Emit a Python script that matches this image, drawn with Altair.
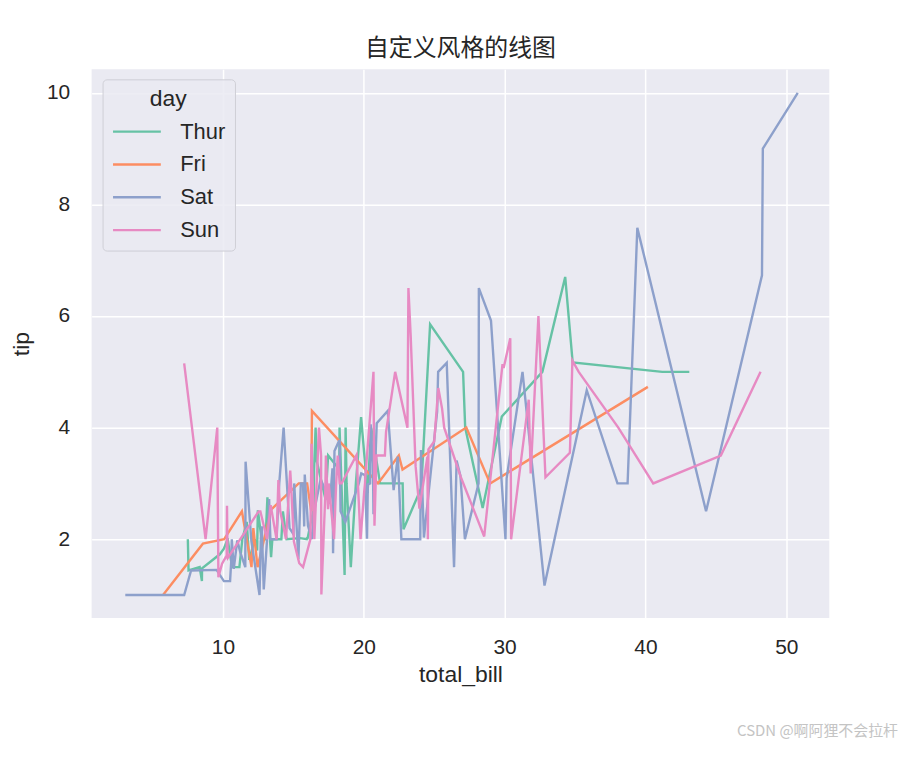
import altair as alt
import pandas as pd

days = ["Thur", "Fri", "Sat", "Sun"]
colors = ["#66c2a5", "#fc8d62", "#8da0cb", "#e78ac3"]

thur_bill = [27.2, 22.76, 17.29, 19.44, 16.66, 10.07, 32.68, 15.98, 34.83, 13.03, 18.28, 24.71, 21.16,
             10.65, 12.43, 24.08, 11.69, 13.42, 14.26, 15.95, 12.48, 29.8, 8.52, 14.52, 11.38, 22.82,
             19.08, 20.27, 11.17, 12.26, 18.26, 8.51, 10.33, 14.15, 16.0, 13.16, 17.47, 34.3, 41.19,
             27.05, 16.43, 8.35, 18.64, 11.87, 9.78, 7.51, 19.81, 28.44, 15.48, 16.58, 7.56, 10.34,
             43.11, 13.0, 13.51, 18.71, 12.74, 13.0, 16.4, 20.53, 16.47, 18.78]
thur_tip = [4.0, 3.0, 2.71, 3.0, 3.4, 1.83, 5.0, 2.03, 5.17, 2.0, 4.0, 5.85, 3.0,
            1.5, 1.8, 2.92, 2.31, 1.68, 2.5, 2.0, 2.52, 4.2, 1.48, 2.0, 2.0, 2.18,
            1.5, 2.83, 1.5, 2.0, 3.25, 1.25, 2.0, 2.0, 2.0, 2.75, 3.5, 6.7, 5.0,
            5.0, 2.3, 1.5, 1.36, 1.63, 1.73, 2.0, 4.19, 2.56, 2.02, 4.0, 1.44, 2.0,
            5.0, 2.0, 2.0, 4.0, 2.01, 2.0, 2.5, 4.0, 3.23, 3.0]

fri_bill = [28.97, 22.49, 5.75, 16.32, 22.75, 40.17, 27.28, 12.03, 21.01, 12.46, 11.35, 15.38,
            12.16, 13.42, 8.58, 15.98, 13.42, 16.27, 10.09]
fri_tip = [3.0, 3.5, 1.0, 4.3, 3.25, 4.73, 4.0, 1.5, 3.0, 1.5, 2.5, 3.0,
           2.2, 3.48, 1.92, 3.0, 1.58, 2.5, 2.0]

sat_bill = [20.65, 17.92, 20.29, 15.77, 39.42, 19.82, 17.81, 13.37, 12.69, 21.7, 19.65, 9.55,
            18.35, 15.06, 20.69, 17.78, 24.06, 16.31, 16.93, 18.69, 31.27, 16.04,
            38.01, 26.41, 11.24, 48.27, 20.29, 13.81, 11.02, 18.29, 17.59, 20.08, 16.45, 3.07,
            20.23, 15.01, 12.02, 17.07, 26.86, 25.28, 14.73, 10.51, 17.92,
            44.3, 22.42, 20.92, 15.36, 20.49, 25.21, 18.24, 14.31, 14.0, 7.25,
            10.59, 10.63, 50.81, 15.81,
            26.59, 38.73, 24.27, 12.76, 30.06, 25.89, 48.33, 13.27, 28.17, 12.9, 28.15, 11.59,
            7.74, 30.14,
            20.45, 13.28, 22.12, 24.01, 15.69, 11.61, 10.77, 15.53, 10.07, 12.6, 32.83, 35.83,
            29.03, 27.18, 22.67, 17.82]
sat_tip = [3.35, 4.08, 2.75, 2.23, 7.58, 3.18, 2.34, 2.0, 2.0, 4.3, 3.0, 1.45,
           2.5, 3.0, 2.45, 3.27, 3.6, 2.0, 3.07, 2.31, 5.0, 2.24,
           3.0, 1.5, 1.76, 6.73, 3.21, 2.0, 1.98, 3.76, 2.64, 3.15, 2.47, 1.0,
           2.01, 2.09, 1.97, 3.0, 3.14, 5.0, 2.2, 1.25, 3.08,
           2.5, 3.48, 4.08, 1.64, 4.06, 4.29, 3.76, 4.0, 3.0, 1.0,
           1.61, 2.0, 10.0, 3.16,
           3.41, 3.0, 2.03, 2.23, 2.0, 5.16, 9.0, 2.5, 6.5, 1.1, 3.0, 1.5,
           1.44, 3.09,
           3.0, 2.72, 2.88, 2.0, 3.0, 3.39, 1.47, 3.0, 1.25, 1.0, 1.17, 4.67,
           5.92, 2.0, 2.0, 1.75]

sun_bill = [16.99, 10.34, 21.01, 23.68, 24.59, 25.29, 8.77, 26.88, 15.04, 14.78, 10.27, 35.26,
            15.42, 18.43, 14.83, 21.58, 10.33, 16.29, 16.97,
            17.46, 13.94, 9.68, 30.4, 18.29, 22.23, 32.4, 28.55, 18.04, 12.54, 10.29, 34.81,
            9.94, 25.56, 19.49,
            38.07, 23.95, 25.71, 17.31, 29.93,
            14.07, 13.13, 17.26, 24.55, 19.77, 29.85, 48.17, 25.0, 13.39, 16.49, 21.5, 12.66,
            16.21, 13.81, 17.51, 24.52, 20.76, 31.71,
            7.25, 31.85, 16.82, 32.9, 17.89, 14.48, 9.6, 34.63, 34.65, 23.33, 45.35, 23.17,
            40.55, 20.69, 20.9, 30.46, 18.15, 23.1, 15.69]
sun_tip = [1.01, 1.66, 3.5, 3.31, 3.61, 4.71, 2.0, 3.12, 1.96, 3.23, 1.71, 5.0,
           1.57, 3.0, 3.02, 3.92, 1.67, 3.71, 3.5,
           2.54, 3.06, 1.32, 5.6, 3.0, 5.0, 6.0, 2.05, 3.0, 2.5, 2.6, 5.2,
           1.56, 4.34, 3.51,
           4.0, 2.55, 4.0, 3.5, 5.07,
           2.5, 2.0, 2.74, 2.0, 2.0, 5.14, 5.0, 3.75, 2.61, 2.0, 3.5, 2.5,
           2.0, 2.0, 3.0, 3.48, 2.24, 4.5,
           5.15, 3.18, 4.0, 3.11, 2.0, 2.0, 4.0, 3.55, 3.68, 5.65, 3.5, 6.5,
           3.0, 5.0, 3.5, 2.0, 3.5, 4.0, 1.5]

x_ticks = [10, 20, 30, 40, 50]
y_ticks = [2, 4, 6, 8, 10]

frames = []
for d, b, t in [("Thur", thur_bill, thur_tip), ("Fri", fri_bill, fri_tip),
                ("Sat", sat_bill, sat_tip), ("Sun", sun_bill, sun_tip)]:
    frames.append(pd.DataFrame({"day": d, "total_bill": b, "tip": t}))
df = pd.concat(frames, ignore_index=True)

LATIN = "Liberation Sans"
CJK = "Noto Sans CJK SC"
TXT = "#262626"

color_scale = alt.Scale(domain=days, range=colors)
legend = alt.Legend(
    title="day", orient="none", legendX=11, legendY=10,
    symbolType="M-1,0H3", symbolStrokeWidth=2.4, symbolSize=576,
    labelFontSize=22, titleFontSize=23, labelFont=LATIN, titleFont=LATIN,
    labelColor=TXT, titleColor=TXT, titleFontWeight="normal",
    titleAnchor="middle", titlePadding=7,
    fillColor="rgba(234,234,242,0.85)", strokeColor="#cfcfd6",
    cornerRadius=4, padding=9, rowPadding=8, labelOffset=42,
)

layers = []
for d in days:
    layers.append(
        alt.Chart(df).transform_filter(alt.datum.day == d).mark_line(strokeWidth=2.4).encode(
            x=alt.X("total_bill:Q", title="total_bill",
                    scale=alt.Scale(domain=[0.68, 53.05], nice=False, zero=False),
                    axis=alt.Axis(values=x_ticks, format="d")),
            y=alt.Y("mean(tip):Q", title="tip",
                    scale=alt.Scale(domain=[0.59, 10.42], nice=False, zero=False),
                    axis=alt.Axis(values=y_ticks, format="d")),
            color=alt.Color("day:N", scale=color_scale, sort=days, legend=legend),
        )
    )

watermark = alt.Chart(pd.DataFrame({"t": ["CSDN @啊阿狸不会拉杆"]})).mark_text(
    font=CJK, fontSize=15, color="#c4c4c4", align="right", baseline="middle"
).encode(x=alt.value(810), y=alt.value(665), text="t:N")

chart = alt.layer(*layers, watermark).properties(
    width=741, height=551,
    title=alt.TitleParams("自定义风格的线图", font=CJK, fontSize=24, fontWeight="normal",
                          color=TXT, anchor="middle", offset=8),
    autosize=alt.AutoSizeParams(type="none"),
    padding={"left": 84, "top": 60, "right": 70, "bottom": 124},
).configure_view(
    fill="#EAEAF2", stroke=None
).configure_axis(
    grid=True, gridColor="white", gridWidth=1.5, domain=False, ticks=False,
    labelFont=LATIN, labelFontSize=21, labelColor=TXT,
    titleFont=LATIN, titleFontSize=23, titleColor=TXT, titleFontWeight="normal",
).configure_axisX(
    labelPadding=19, titlePadding=6
).configure_axisY(
    labelPadding=22, titlePadding=13
)

chart.save("out.html", embed_options={"renderer": "svg", "actions": False})
